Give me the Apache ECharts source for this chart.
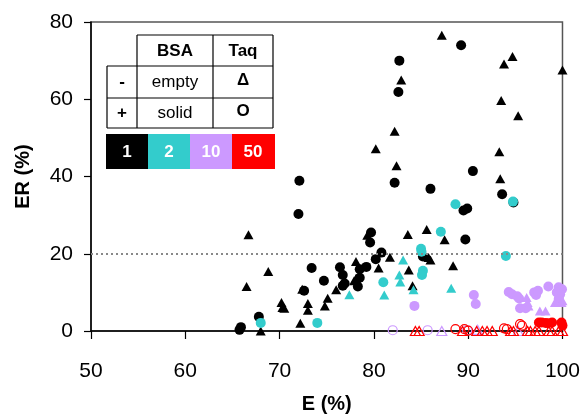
<!DOCTYPE html>
<html>
<head>
<meta charset="utf-8">
<script src="https://cdn.jsdelivr.net/npm/echarts@6/dist/echarts.min.js"></script>
<style>
  html, body { margin: 0; padding: 0; background: #fff; }
  #chart { width: 583px; height: 419px; }
</style>
</head>
<body>
<div id="chart"></div>
<script>
// x ticks / y ticks
var xTicks = [50, 60, 70, 80, 90, 100];
var yTicks = [0, 20, 40, 60, 80];

// [E %, ER %]
var blackCircles = [[72.1,38.9],[72.0,30.3],[73.4,16.3],[76.4,16.5],[74.7,13.0],[72.6,10.4],[67.8,3.7],[65.9,1.0],[65.75,0.3],
  [82.2,38.4],[86.0,36.8],[79.7,25.5],[79.6,22.9],[85.2,19.3],[80.8,20.3],[80.2,18.6],[79.2,16.6],[78.5,16.0],[76.7,14.5],
  [78.5,13.8],[76.9,12.3],[76.7,11.7],[78.3,11.5],[82.7,70.0],[82.6,61.9],[89.25,74.0],[90.5,41.4],[93.6,35.4],[94.8,33.3],
  [89.5,31.2],[89.9,31.7],[89.7,23.7]];
var blackTriangles = [[66.7,24.9],[68.8,15.4],[66.5,11.5],[72.4,10.8],[76.0,10.7],[70.2,7.4],[70.3,6.1],[70.5,5.9],[73.0,7.1],
  [73.0,5.4],[75.1,8.5],[74.8,6.5],[72.2,2.0],[68.0,0.0],[79.3,24.8],[83.6,25.0],[85.6,26.3],[87.5,23.6],[85.8,19.0],[86.0,18.4],
  [81.7,19.1],[78.1,18.0],[80.5,16.3],[83.7,15.8],[78.1,13.6],[77.9,13.0],[84.1,11.7],[87.2,76.6],[94.7,71.1],[93.8,69.1],
  [100,67.6],[93.5,59.7],[95.3,55.7],[93.3,46.4],[93.4,39.4],[82.9,65.0],[82.2,51.7],[80.2,47.2],[82.4,42.8],[88.4,16.9]];
var cyanCircles = [[68.0,2.1],[74.0,2.1],[87.1,25.7],[85.0,21.3],[85.05,20.5],[85.2,15.6],[85.1,14.5],[81.0,12.6],[94.75,33.5],
  [88.65,32.8],[94.0,19.4]];
var cyanTriangles = [[83.1,18.4],[82.7,14.5],[82.8,12.7],[84.2,10.7],[77.4,9.4],[81.1,9.3],[88.2,11.1]];
var lavenderCircles = [[84.3,6.5],[90.6,9.3],[90.8,7.0],[94.3,10.1],[94.65,9.5],[95.2,9.0],[95.4,8.4],[95.5,5.9],[96.1,5.9],
  [97.0,10.0],[97.2,9.3],[97.4,10.4],[98.5,11.5],[99.6,11.3],[99.95,10.8],[99.4,10.0],[99.75,9.5],[99.6,8.3]];
var lavenderTriangles = [[96.2,8.7],[96.3,7.4],[96.4,6.5],[97.6,5.2],[98.2,5.2],[99.2,7.4],[99.9,7.4],[100,7.8]];
var lavenderEmptyCircles = [[82.0,0.2],[85.7,0.2],[89.9,0.2]];
var lavenderEmptyTriangles = [[87.2,0],[91.0,0.3],[95.3,0]];
var redCircles = [[97.5,2.2],[97.8,2.2],[98.2,2.1],[98.5,2.0],[98.9,2.2],[99.9,2.2],[100,1.4]];
var redEmptyCircles = [[88.65,0.5],[89.6,0.5],[90.0,0.1],[93.8,0.7],[94.1,0.5],[95.5,1.8],[95.7,1.4]];
var redEmptyTriangles = [[84.4,0],[84.8,0],[89.4,0],[90.9,0],[91.5,0],[92.0,0],[92.55,0],[94.5,0],[94.8,0],[96.3,0],[96.6,0],
  [97.1,0],[97.5,0],[98.55,0],[98.9,0],[99.6,0],[100,0]];

var BLACK = '#000000', CYAN = '#33CCCC', LAV = '#CC99FF', RED = '#FF0000';
var FONT = 'Liberation Sans';

function solid(data, sym, color) {
  return {
    type: 'scatter', data: data, symbol: sym, clip: false,
    symbolSize: sym === 'triangle' ? [10, 9] : 10,
    itemStyle: { color: color, opacity: 1 }
  };
}
function empty(data, sym, color) {
  return {
    type: 'scatter', data: data, symbol: sym, clip: false,
    symbolSize: sym === 'triangle' ? [10, 9] : 9,
    itemStyle: { color: 'rgba(0,0,0,0)', borderColor: color, borderWidth: 1.2, opacity: 1 }
  };
}

// legend table
var tbl = [];
function ln(x1, y1, x2, y2) {
  tbl.push({ type: 'line', shape: { x1: x1, y1: y1, x2: x2, y2: y2 }, style: { stroke: '#000', lineWidth: 1.2 } });
}
function txt(x, y, s, bold, color) {
  tbl.push({ type: 'text', x: x, y: y, style: { text: s, fill: color || '#000', font: (bold ? 'bold ' : '') + '17px ' + FONT, align: 'center', verticalAlign: 'middle' } });
}
ln(137, 35, 273, 35); ln(107, 66, 273, 66); ln(107, 98, 273, 98); ln(107, 128, 273, 128);
ln(107, 66, 107, 128); ln(137, 35, 137, 128); ln(213, 35, 213, 128); ln(273, 35, 273, 128);
txt(175, 51, 'BSA', true); txt(243, 51, 'Taq', true);
txt(122, 82, '-', true); txt(175, 82, 'empty'); txt(243, 80, 'Δ', true);
txt(122, 113, '+', true); txt(175, 113, 'solid'); txt(243, 111, 'O', true);
var boxes = [['1', BLACK], ['2', CYAN], ['10', LAV], ['50', RED]];
var bx = [106, 148, 190, 232];
boxes.forEach(function (b, i) {
  tbl.push({ type: 'rect', shape: { x: bx[i], y: 134, width: 43, height: 35 }, style: { fill: b[1] } });
  txt(bx[i] + 21, 152, b[0], true, '#fff');
});

var chart = echarts.init(document.getElementById('chart'));
var option = {
  animation: false,
  grid: { left: 91, right: 19, top: 22, bottom: 87, show: true, borderColor: '#555', borderWidth: 1.5 },
  xAxis: {
    type: 'value', min: xTicks[0], max: xTicks[xTicks.length - 1], interval: 10,
    name: 'E (%)', nameLocation: 'middle', nameGap: 63,
    nameTextStyle: { fontFamily: FONT, fontSize: 20, fontWeight: 'bold', color: '#000' },
    axisLine: { lineStyle: { color: '#000', width: 1.5 } },
    axisTick: { show: true, length: 8, lineStyle: { color: '#000', width: 1.2 } },
    axisLabel: { margin: 30, fontFamily: FONT, fontSize: 21, color: '#000' },
    splitLine: { show: false }
  },
  yAxis: {
    type: 'value', min: yTicks[0], max: yTicks[yTicks.length - 1], interval: 20,
    name: 'ER (%)', nameLocation: 'middle', nameGap: 58,
    nameTextStyle: { fontFamily: FONT, fontSize: 20, fontWeight: 'bold', color: '#000' },
    axisLine: { show: true, lineStyle: { color: '#000', width: 1.5 } },
    axisTick: { show: true, length: 7, lineStyle: { color: '#000', width: 1.2 } },
    axisLabel: { margin: 18, fontFamily: FONT, fontSize: 21, color: '#000' },
    splitLine: { show: false }
  },
  graphic: tbl,
  series: [
    {
      type: 'line', data: [], silent: true,
      markLine: {
        silent: true, symbol: 'none', label: { show: false },
        lineStyle: { color: '#888', type: [2, 3], width: 2 },
        data: [{ yAxis: 20 }]
      }
    },
    solid(blackCircles, 'circle', BLACK),
    solid(blackTriangles, 'triangle', BLACK),
    solid(cyanCircles, 'circle', CYAN),
    solid(cyanTriangles, 'triangle', CYAN),
    solid(lavenderCircles, 'circle', LAV),
    solid(lavenderTriangles, 'triangle', LAV),
    empty(lavenderEmptyCircles, 'circle', LAV),
    empty(lavenderEmptyTriangles, 'triangle', LAV),
    solid(redCircles, 'circle', RED),
    empty(redEmptyCircles, 'circle', RED),
    empty(redEmptyTriangles, 'triangle', RED)
  ]
};
chart.setOption(option);
</script>
</body>
</html>
